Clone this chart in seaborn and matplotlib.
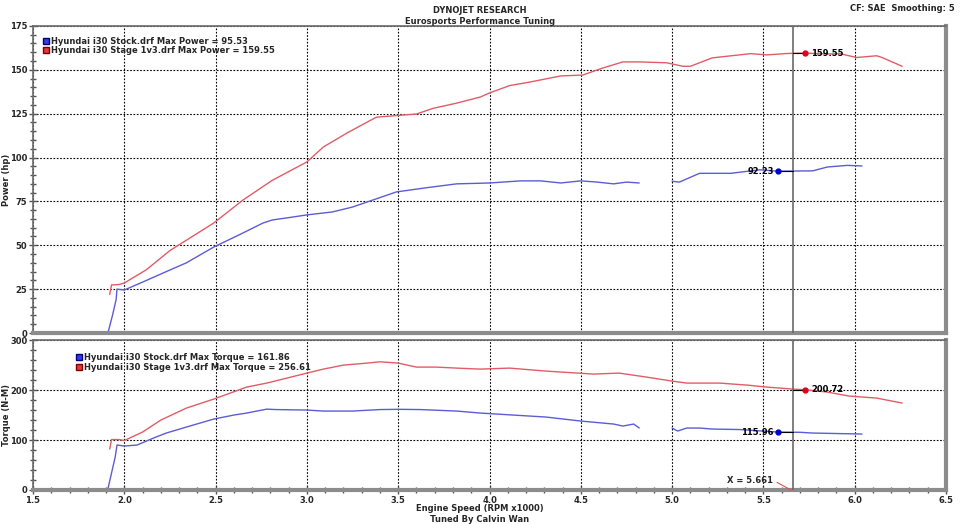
import pandas as pd
import numpy as np
import matplotlib
matplotlib.use("Agg")
import matplotlib.pyplot as plt
import seaborn as sns
from matplotlib.lines import Line2D
from matplotlib.ticker import MultipleLocator

sns.set_theme(style="white")
plt.rcParams["font.family"] = ["DejaVu Sans"]
plt.rcParams["font.weight"] = "bold"

# DATA (rpm x1000, hp / N-m)
STAGE_PWR_RPM = [1.92, 1.93, 1.97, 2.0, 2.12, 2.25, 2.49, 2.65, 2.81, 3.0, 3.09, 3.22, 3.38,
                 3.5, 3.6, 3.69, 3.82, 3.95, 4.0, 4.11, 4.22, 4.39, 4.51, 4.62, 4.73, 4.82,
                 4.97, 5.06, 5.1, 5.22, 5.43, 5.52, 5.63, 5.73, 5.85, 5.92, 6.01, 6.12, 6.15, 6.26]
STAGE_PWR = [22, 27.4, 27.6, 28.5, 36, 47, 62.7, 75.8, 87, 97.5, 106, 114, 123,
             124, 124.8, 128, 131, 134.5, 136.8, 141, 143, 146.5, 147, 151, 154.5, 154.5,
             154, 152, 152, 156.8, 159.2, 158.5, 159.3, 159.55, 159.0, 159.2, 157, 158, 157, 152]

STOCK_PWR_RPM_1 = [1.91, 1.935, 1.955, 1.96, 2.0, 2.1, 2.23, 2.34, 2.49, 2.63, 2.76, 2.81, 2.89,
                   3.0, 3.14, 3.25, 3.49, 3.67, 3.82, 4.0, 4.17, 4.28, 4.39, 4.5, 4.59, 4.68,
                   4.75, 4.82]
STOCK_PWR_1 = [0, 10, 19, 25, 24.5, 29, 35, 40, 49, 56, 62.7, 64.4, 65.6,
               67.3, 69, 71.8, 80.4, 83, 85, 85.5, 86.7, 86.7, 85.5, 86.7, 86, 85,
               86, 85.5]
STOCK_PWR_RPM_2 = [5.0, 5.04, 5.15, 5.32, 5.48, 5.58, 5.66, 5.77, 5.85, 5.96, 6.04]
STOCK_PWR_2 = [86.5, 86, 91, 91, 93, 92.23, 92.3, 92.4, 94.6, 95.53, 95.2]

STAGE_TRQ_RPM = [1.92, 1.93, 1.97, 2.0, 2.1, 2.2, 2.34, 2.49, 2.58, 2.67, 2.78, 3.0, 3.09,
                 3.2, 3.33, 3.40, 3.5, 3.6, 3.71, 3.82, 3.95, 4.11, 4.31, 4.57, 4.71, 4.86,
                 5.0, 5.08, 5.26, 5.41, 5.52, 5.66, 5.73, 5.85, 5.97, 6.12, 6.26]
STAGE_TRQ = [82, 101, 101, 99, 116, 140, 164, 182, 194, 206, 214, 234, 242,
             250, 254, 256.61, 254, 246, 246, 244, 242, 244, 238, 232, 234, 226,
             218, 214, 214, 210, 206, 202, 200.72, 196, 188, 184, 174]

STOCK_TRQ_RPM_1 = [1.91, 1.95, 1.96, 2.0, 2.07, 2.16, 2.23, 2.34, 2.49, 2.6, 2.67, 2.78, 2.83,
                   3.0, 3.09, 3.25, 3.40, 3.5, 3.62, 3.82, 3.95, 4.13, 4.31, 4.5, 4.68, 4.73,
                   4.79, 4.82]
STOCK_TRQ_1 = [2, 66, 90, 88, 90, 104, 114, 126, 142, 150, 154, 161.86, 161,
               160, 158, 158, 161, 161.5, 161, 158, 154, 150, 146, 138, 132, 128,
               132, 124]
STOCK_TRQ_RPM_2 = [5.0, 5.03, 5.08, 5.15, 5.22, 5.37, 5.58, 5.7, 5.77, 6.04]
STOCK_TRQ_2 = [124, 118, 124, 124, 122, 121, 115.96, 115.5, 114, 112]

CURSOR_X = 5.661
STAGE_MARK_X, STOCK_MARK_X = 5.73, 5.58
PWR_MARKS = {"stage": 159.55, "stock": 92.23}
TRQ_MARKS = {"stage": 200.72, "stock": 115.96}

RED = "#e25c68"
BLUE = "#5c5cd6"
palette = {"stock": BLUE, "stage": RED}


def long_df(parts):
    rows = []
    for run, seg, xs, ys in parts:
        for x, y in zip(xs, ys):
            rows.append({"rpm": x, "value": y, "run": run, "seg": f"{run}{seg}"})
    return pd.DataFrame(rows)


pwr_df = long_df([("stage", 1, STAGE_PWR_RPM, STAGE_PWR),
                  ("stock", 1, STOCK_PWR_RPM_1, STOCK_PWR_1),
                  ("stock", 2, STOCK_PWR_RPM_2, STOCK_PWR_2)])
trq_df = long_df([("stage", 1, STAGE_TRQ_RPM, STAGE_TRQ),
                  ("stock", 1, STOCK_TRQ_RPM_1, STOCK_TRQ_1),
                  ("stock", 2, STOCK_TRQ_RPM_2, STOCK_TRQ_2)])

fig = plt.figure(figsize=(9.6, 5.24), dpi=100)
ax_p = fig.add_axes([0.0344, 0.3645, 0.951, 0.586])
ax_t = fig.add_axes([0.0344, 0.0649, 0.951, 0.286], sharex=ax_p)

FS = 6


def style_axes(ax, ymax, ymaj, ymin):
    ax.set_xlim(1.5, 6.5)
    ax.set_ylim(0, ymax)
    ax.xaxis.set_major_locator(MultipleLocator(0.5))
    ax.xaxis.set_minor_locator(MultipleLocator(0.1))
    ax.yaxis.set_major_locator(MultipleLocator(ymaj))
    ax.yaxis.set_minor_locator(MultipleLocator(ymin))
    ax.grid(True, which="major", color="black", linestyle=(0, (1.5, 1.5)), linewidth=0.8)
    ax.tick_params(axis="both", which="major", direction="inout", length=6,
                   width=1, color="#555555", labelsize=FS, pad=1)
    ax.tick_params(axis="both", which="minor", direction="inout", length=4,
                   width=1, color="#555555")
    ax.tick_params(left=True, bottom=True, which="both")
    for lab in ax.get_xticklabels() + ax.get_yticklabels():
        lab.set_fontweight("bold")
    for side in ["top", "left"]:
        ax.spines[side].set_color("#6a6a6a")
        ax.spines[side].set_linewidth(1.2)
    for side in ["bottom", "right"]:
        ax.spines[side].set_color("#8c8c8c")
        ax.spines[side].set_linewidth(3)
    ax.set_xlabel("")
    ax.set_ylabel("")


# Power panel
sns.lineplot(data=pwr_df, x="rpm", y="value", hue="run", units="seg", estimator=None,
             palette=palette, linewidth=1.0, legend=False, ax=ax_p)
style_axes(ax_p, 175, 25, 5)
ax_p.tick_params(axis="x", labelbottom=False, length=0, which="both")
ax_p.set_ylabel("Power (hp)", fontsize=FS, fontweight="bold")
ax_p.yaxis.set_label_coords(-0.0245, 0.5)

# Torque panel
sns.lineplot(data=trq_df, x="rpm", y="value", hue="run", units="seg", estimator=None,
             palette=palette, linewidth=1.0, legend=False, ax=ax_t)
style_axes(ax_t, 300, 100, 20)
ax_t.set_ylabel("Torque (N-M)", fontsize=FS, fontweight="bold")
ax_t.yaxis.set_label_coords(-0.0245, 0.5)

# cursor and markers
for ax, marks in [(ax_p, PWR_MARKS), (ax_t, TRQ_MARKS)]:
    ax.axvline(CURSOR_X, color="#6a6a6a", linewidth=1.2, zorder=5)
    ax.plot([CURSOR_X, STAGE_MARK_X], [marks["stage"]] * 2, color="black", lw=0.8, zorder=6)
    ax.plot([STOCK_MARK_X, CURSOR_X], [marks["stock"]] * 2, color="black", lw=0.8, zorder=6)
    ax.plot(STAGE_MARK_X, marks["stage"], "o", color="#e0001e", markersize=3.5, zorder=7)
    ax.plot(STOCK_MARK_X, marks["stock"], "o", color="#0000d0", markersize=3.5, zorder=7)
    ax.annotate(f"{marks['stage']:.2f}", (STAGE_MARK_X, marks["stage"]),
                xytext=(4, 0), textcoords="offset points", ha="left", va="center",
                fontsize=FS, fontweight="bold", color="black", zorder=8)
    ax.annotate(f"{marks['stock']:.2f}", (STOCK_MARK_X, marks["stock"]),
                xytext=(-3, 0), textcoords="offset points", ha="right", va="center",
                fontsize=FS, fontweight="bold", color="black", zorder=8)

ax_t.annotate(f"X = {CURSOR_X:.3f}", xy=(CURSOR_X - 0.01, 0), xytext=(5.55, 20),
              ha="right", va="center", fontsize=FS, fontweight="bold",
              arrowprops=dict(arrowstyle="-", color="#e05050", lw=0.8,
                              shrinkA=1, shrinkB=0, relpos=(1.0, 0.5)))


# legends
def make_legend(ax, labels, anchor):
    handles = [Line2D([], [], marker="s", linestyle="none", markersize=4.5,
                      markerfacecolor=c, markeredgecolor=e)
               for c, e in [("#3a3ae0", "#000080"), ("#e03a3a", "#800000")]]
    return ax.legend(handles, labels, loc="upper left", bbox_to_anchor=anchor,
                     frameon=False, handlelength=0.6, handletextpad=0.25,
                     labelspacing=0.05, borderaxespad=0, prop={"size": FS, "weight": "bold"})


make_legend(ax_p, ["Hyundai i30 Stock.drf Max Power = 95.53",
                   "Hyundai i30 Stage 1v3.drf Max Power = 159.55"], (0.008, 0.975))
make_legend(ax_t, ["Hyundai i30 Stock.drf Max Torque = 161.86",
                   "Hyundai i30 Stage 1v3.drf Max Torque = 256.61"], (0.044, 0.935))

# header / footer text
fig.text(0.5, 0.988, "DYNOJET RESEARCH", ha="center", va="top", fontsize=FS, fontweight="bold")
fig.text(0.5, 0.968, "Eurosports Performance Tuning", ha="center", va="top",
         fontsize=FS, fontweight="bold")
fig.text(0.995, 0.992, "CF: SAE  Smoothing: 5", ha="right", va="top", fontsize=FS,
         fontweight="bold")
fig.text(0.5, 0.030, "Engine Speed (RPM x1000)", ha="center", va="center",
         fontsize=FS, fontweight="bold")
fig.text(0.5, 0.008, "Tuned By Calvin Wan", ha="center", va="center",
         fontsize=FS, fontweight="bold")

fig.savefig("out.png", dpi=100)
